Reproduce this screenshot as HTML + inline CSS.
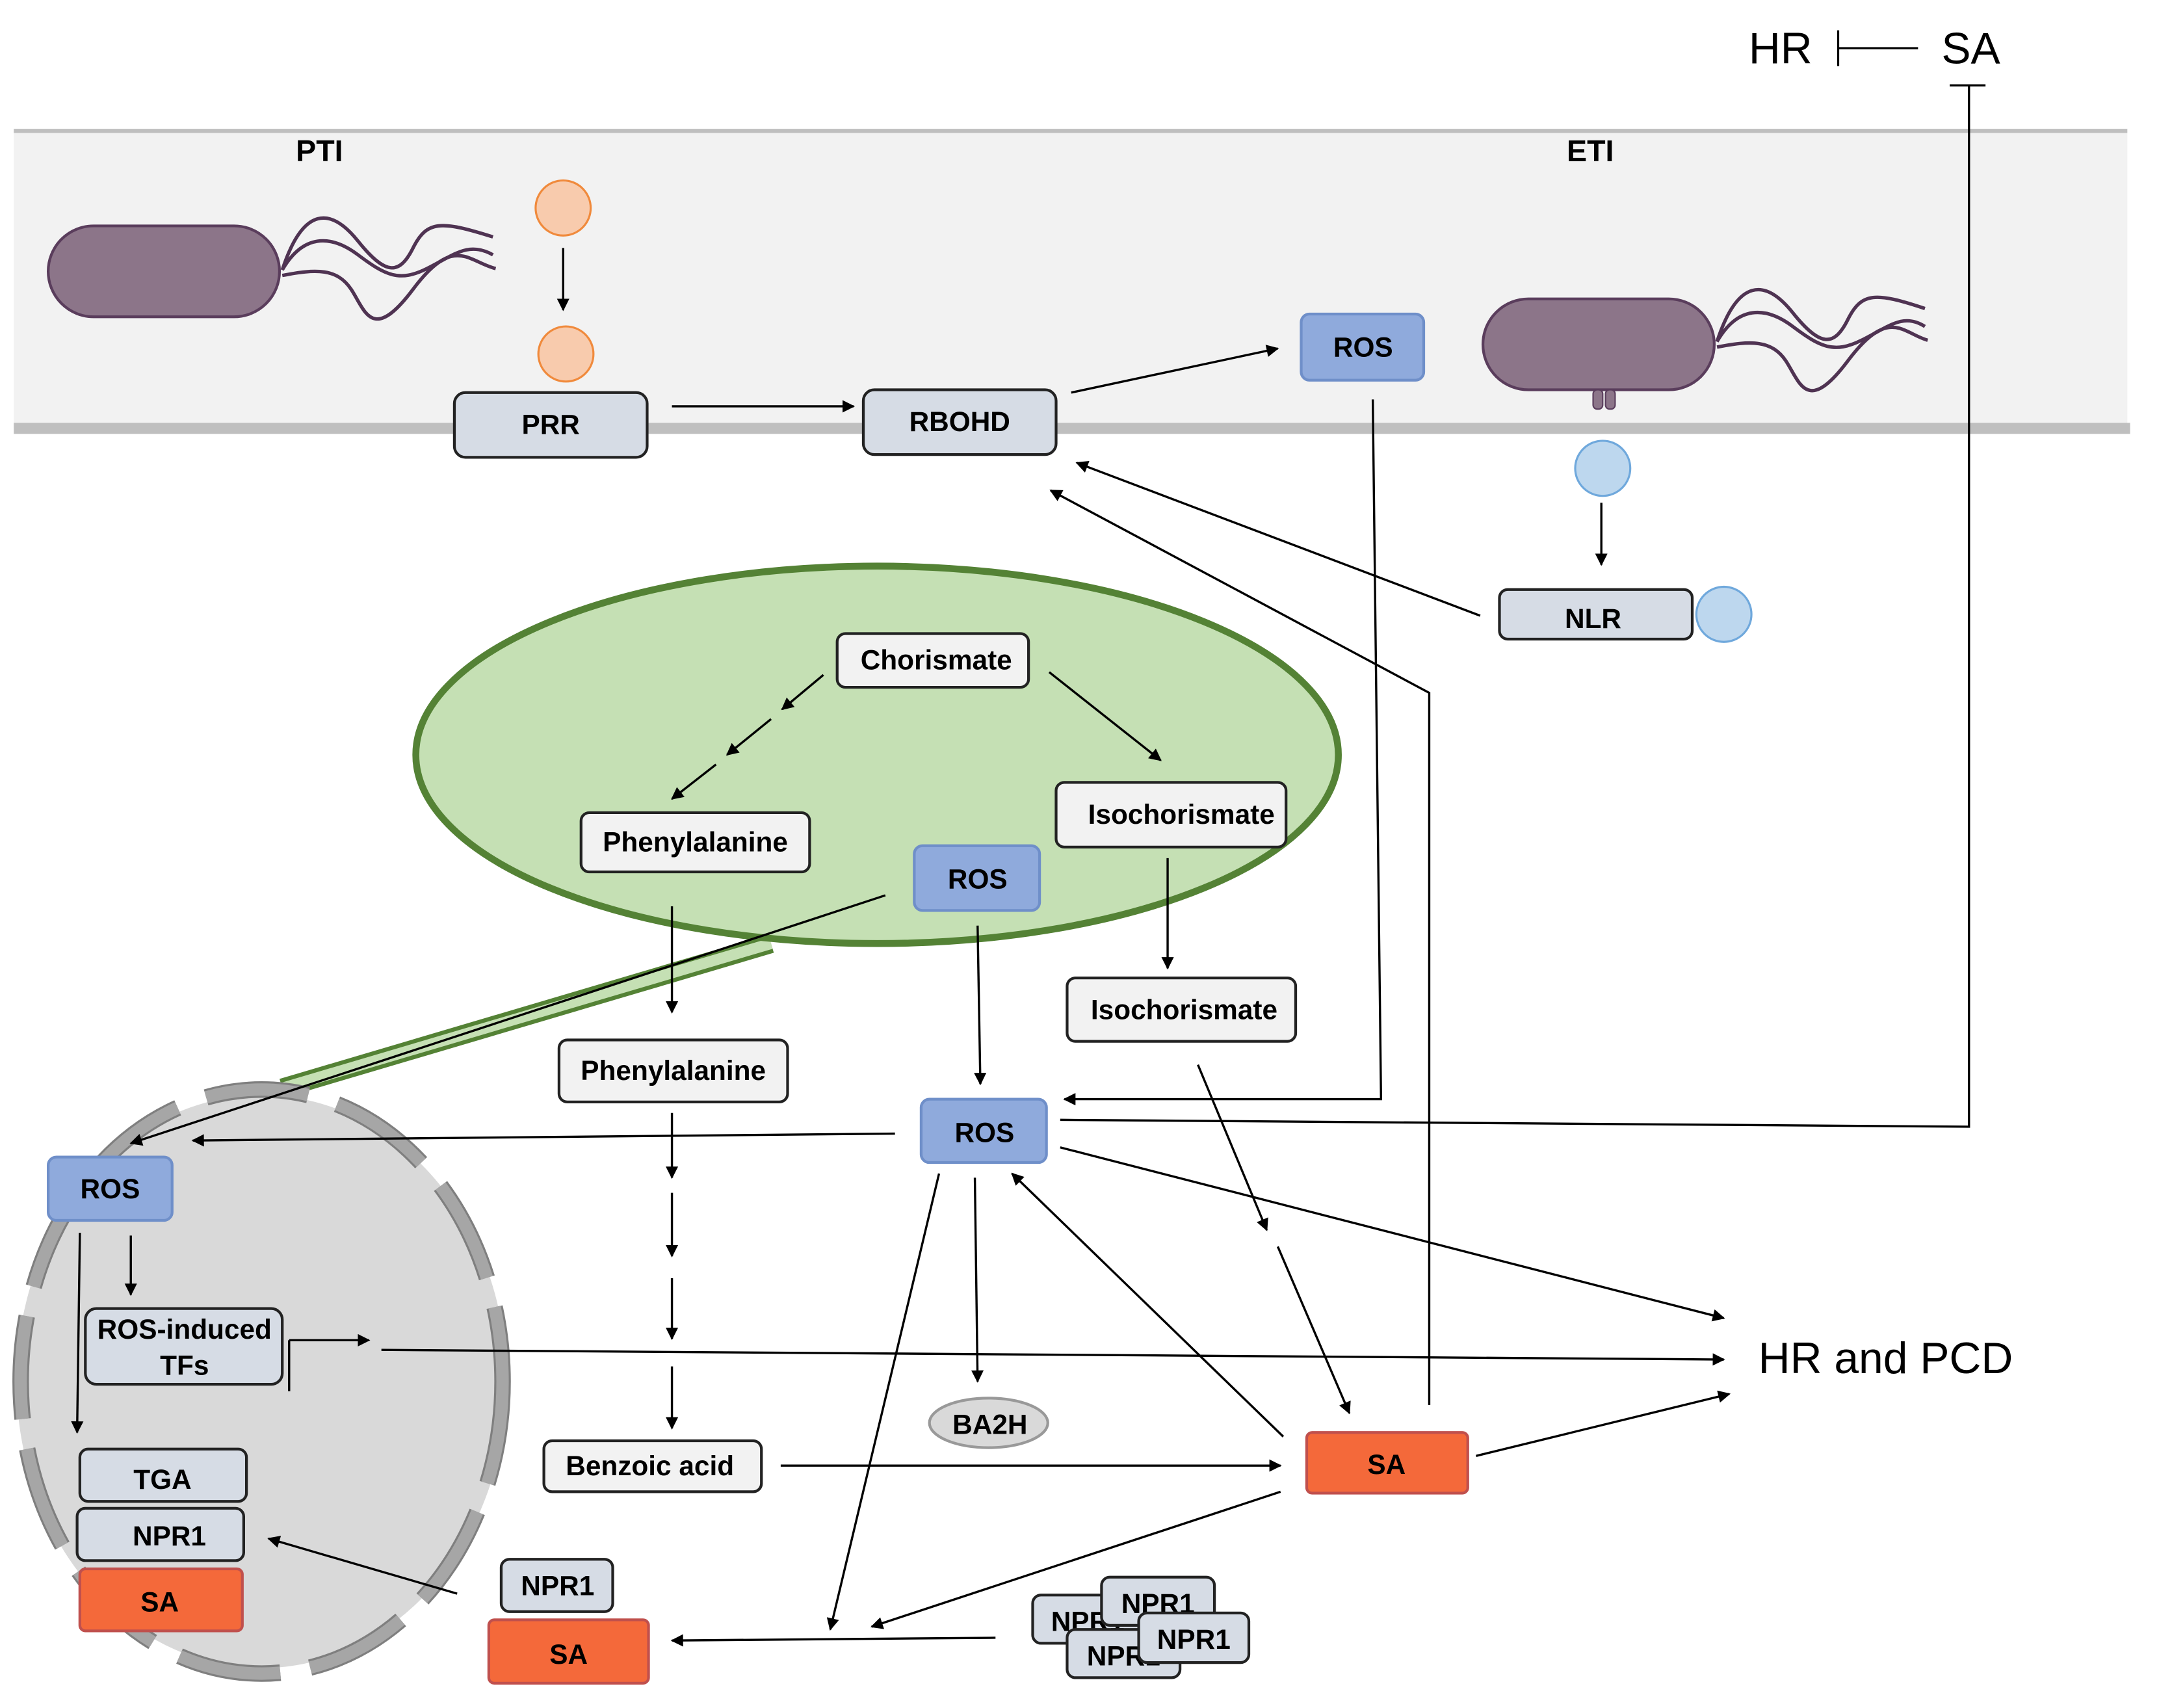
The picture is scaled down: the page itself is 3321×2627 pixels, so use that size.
<!DOCTYPE html>
<html><head><meta charset="utf-8"><style>html,body{margin:0;padding:0;background:#fff}svg{display:block}</style></head><body>
<svg width="3321" height="2627" viewBox="0 0 1568 1240" preserveAspectRatio="none" xmlns="http://www.w3.org/2000/svg" font-family="Liberation Sans, sans-serif">
<defs>
<marker id="a" viewBox="0 0 10 10" refX="9" refY="5" markerWidth="10" markerHeight="9" orient="auto-start-reverse" markerUnits="userSpaceOnUse"><path d="M0,0 L10,5 L0,10 z" fill="#000"/></marker>
</defs>
<g font-weight="bold" font-size="20" text-anchor="middle">
<rect x="10" y="95" width="1535" height="216" fill="#f2f2f2"/>
<line x1="10" y1="95" x2="1545" y2="95" stroke="#bfbfbf" stroke-width="3"/>
<line x1="10" y1="311" x2="1547" y2="311" stroke="#bfbfbf" stroke-width="8"/>
<g font-weight="normal" font-size="32" text-anchor="start">
<text x="1270" y="46">HR</text><text x="1410" y="46">SA</text>
<text x="1277" y="997">HR and PCD</text>
</g>
<line x1="1335" y1="35" x2="1393" y2="35" stroke="#000" stroke-width="1.5"/>
<line x1="1335" y1="22" x2="1335" y2="48" stroke="#000" stroke-width="1.5"/>
<text x="232" y="117" font-size="22">PTI</text>
<text x="1155" y="117" font-size="22">ETI</text>
<rect x="35" y="164" width="168" height="66" rx="33" fill="#8c7589" stroke="#5a3d5c" stroke-width="2"/>
<g fill="none" stroke="#4f3352" stroke-width="2.5">
<path d="M205,196 C220,150 240,150 260,175 S290,200 300,180 S320,160 358,172"/>
<path d="M205,196 C220,170 240,170 260,185 S290,205 310,195 S340,175 358,185"/>
<path d="M205,200 C230,195 245,195 255,210 S270,250 300,210 S340,190 360,195"/>
</g>
<rect x="1077" y="217" width="168" height="66" rx="33" fill="#8c7589" stroke="#5a3d5c" stroke-width="2"/>
<g fill="none" stroke="#4f3352" stroke-width="2.5">
<path d="M1247,248 C1262,202 1282,202 1302,227 S1332,252 1342,232 S1362,212 1398,224"/>
<path d="M1247,248 C1262,222 1282,222 1302,237 S1332,257 1352,247 S1382,227 1398,237"/>
<path d="M1247,252 C1272,247 1287,247 1297,262 S1312,302 1342,262 S1382,242 1400,247"/>
</g>
<rect x="1157" y="283" width="7" height="14" rx="3" fill="#8c7589" stroke="#5a3d5c"/>
<rect x="1166" y="283" width="7" height="14" rx="3" fill="#8c7589" stroke="#5a3d5c"/>
<ellipse cx="409" cy="151" rx="20" ry="20" fill="#f8cbad" stroke="#f08a3c" stroke-width="1.5"/>
<ellipse cx="411" cy="257" rx="20" ry="20" fill="#f8cbad" stroke="#f08a3c" stroke-width="1.5"/>
<circle cx="1164" cy="340" r="20" fill="#bdd7ee" stroke="#6fa8dc" stroke-width="1.5"/>
<circle cx="1252" cy="446" r="20" fill="#bdd7ee" stroke="#6fa8dc" stroke-width="1.5"/>
<path d="M560,685 L205,790" stroke="#548235" stroke-width="14"/>
<path d="M560,685 L205,790" stroke="#c5e0b4" stroke-width="8"/>
<ellipse cx="637" cy="548" rx="335" ry="137" fill="#c5e0b4" stroke="#548235" stroke-width="5"/>
<ellipse cx="190" cy="1003" rx="178" ry="208" fill="#d9d9d9"/>
<ellipse cx="190" cy="1003" rx="175" ry="212" fill="none" stroke="#7f7f7f" stroke-width="12" stroke-dasharray="75 22"/>
<ellipse cx="190" cy="1003" rx="175" ry="212" fill="none" stroke="#a6a6a6" stroke-width="9" stroke-dasharray="75 22"/>
<g stroke="#000" stroke-width="1.6" fill="none" marker-end="url(#a)">
<line x1="409" y1="180" x2="409" y2="225"/>
<line x1="488" y1="295" x2="620" y2="295"/>
<line x1="778" y1="285" x2="928" y2="253"/>
<line x1="1163" y1="365" x2="1163" y2="410"/>
<line x1="1075" y1="447" x2="782" y2="336"/>
<polyline points="1038,1020 1038,503 763,356"/>
<polyline points="997,290 1003,798 773,798"/>
<line x1="598" y1="490" x2="568" y2="515"/>
<line x1="560" y1="522" x2="528" y2="548"/>
<line x1="520" y1="555" x2="488" y2="580"/>
<line x1="762" y1="488" x2="843" y2="552"/>
<line x1="848" y1="623" x2="848" y2="703"/>
<line x1="488" y1="658" x2="488" y2="735"/>
<line x1="643" y1="650" x2="95" y2="830"/>
<line x1="710" y1="672" x2="712" y2="787"/>
<line x1="650" y1="823" x2="140" y2="828"/>
<line x1="770" y1="833" x2="1252" y2="957"/>
<line x1="870" y1="773" x2="920" y2="893"/>
<line x1="928" y1="905" x2="980" y2="1026"/>
<line x1="488" y1="808" x2="488" y2="855"/>
<line x1="488" y1="866" x2="488" y2="912"/>
<line x1="488" y1="928" x2="488" y2="972"/>
<line x1="488" y1="992" x2="488" y2="1037"/>
<line x1="567" y1="1064" x2="930" y2="1064"/>
<line x1="708" y1="855" x2="710" y2="1003"/>
<line x1="932" y1="1043" x2="735" y2="852"/>
<line x1="1072" y1="1057" x2="1256" y2="1012"/>
<line x1="277" y1="980" x2="1252" y2="987"/>
<line x1="95" y1="897" x2="95" y2="940"/>
<line x1="58" y1="895" x2="56" y2="1040"/>
<line x1="210" y1="973" x2="268" y2="973"/>
<line x1="332" y1="1157" x2="195" y2="1117"/>
<line x1="723" y1="1189" x2="488" y2="1191"/>
<line x1="682" y1="852" x2="603" y2="1183"/>
<line x1="930" y1="1083" x2="633" y2="1181"/>
</g>
<polyline points="770,813 1430,818 1430,62" stroke="#000" stroke-width="1.6" fill="none"/>
<line x1="1416" y1="62" x2="1442" y2="62" stroke="#000" stroke-width="1.6"/>
<line x1="210" y1="973" x2="210" y2="1010" stroke="#000" stroke-width="1.6"/>
<g stroke="#222" stroke-width="2">
<rect x="330" y="285" width="140" height="47" rx="8" fill="#d6dce5"/>
<rect x="627" y="283" width="140" height="47" rx="8" fill="#d6dce5"/>
<rect x="945" y="228" width="89" height="48" rx="6" fill="#8faadc" stroke="#6f8fc9"/>
<rect x="1089" y="428" width="140" height="36" rx="6" fill="#d6dce5"/>
<rect x="608" y="460" width="139" height="39" rx="6" fill="#f2f2f2"/>
<rect x="422" y="590" width="166" height="43" rx="6" fill="#f2f2f2"/>
<rect x="767" y="568" width="167" height="47" rx="6" fill="#f2f2f2"/>
<rect x="664" y="614" width="91" height="47" rx="6" fill="#8faadc" stroke="#6f8fc9"/>
<rect x="775" y="710" width="166" height="46" rx="6" fill="#f2f2f2"/>
<rect x="406" y="755" width="166" height="45" rx="6" fill="#f2f2f2"/>
<rect x="669" y="798" width="91" height="46" rx="6" fill="#8faadc" stroke="#6f8fc9"/>
<rect x="395" y="1046" width="158" height="37" rx="6" fill="#f2f2f2"/>
<ellipse cx="718" cy="1033" rx="43" ry="18" fill="#d9d9d9" stroke="#999"/>
<rect x="949" y="1040" width="117" height="44" rx="4" fill="#f4693a" stroke="#c0504d"/>
<rect x="35" y="840" width="90" height="46" rx="6" fill="#8faadc" stroke="#6f8fc9"/>
<rect x="62" y="950" width="143" height="55" rx="8" fill="#d6dce5"/>
<rect x="58" y="1052" width="121" height="38" rx="6" fill="#d6dce5"/>
<rect x="56" y="1095" width="121" height="38" rx="6" fill="#d6dce5"/>
<rect x="58" y="1139" width="118" height="45" rx="4" fill="#f4693a" stroke="#c0504d"/>
<rect x="364" y="1132" width="81" height="38" rx="6" fill="#d6dce5"/>
<rect x="355" y="1176" width="116" height="46" rx="4" fill="#f4693a" stroke="#c0504d"/>
</g>
<g>
<text x="400" y="315">PRR</text>
<text x="697" y="313">RBOHD</text>
<text x="990" y="259">ROS</text>
<text x="1157" y="456">NLR</text>
<text x="680" y="486">Chorismate</text>
<text x="505" y="618">Phenylalanine</text>
<text x="858" y="598">Isochorismate</text>
<text x="710" y="645">ROS</text>
<text x="860" y="740">Isochorismate</text>
<text x="489" y="784">Phenylalanine</text>
<text x="715" y="829">ROS</text>
<text x="472" y="1071">Benzoic acid</text>
<text x="719" y="1041">BA2H</text>
<text x="1007" y="1070">SA</text>
<text x="80" y="870">ROS</text>
<text x="134" y="972">ROS-induced</text>
<text x="134" y="998">TFs</text>
<text x="118" y="1081">TGA</text>
<text x="123" y="1122">NPR1</text>
<text x="116" y="1170">SA</text>
<text x="405" y="1158">NPR1</text>
<text x="413" y="1208">SA</text>
</g>
<rect x="750" y="1158" width="85" height="35" rx="6" fill="#d6dce5" stroke="#222" stroke-width="2"/>
<text x="790" y="1184">NPR1</text>
<rect x="800" y="1145" width="82" height="35" rx="6" fill="#d6dce5" stroke="#222" stroke-width="2"/>
<text x="841" y="1171">NPR1</text>
<rect x="775" y="1183" width="82" height="35" rx="6" fill="#d6dce5" stroke="#222" stroke-width="2"/>
<text x="816" y="1209">NPR1</text>
<rect x="827" y="1171" width="80" height="36" rx="6" fill="#d6dce5" stroke="#222" stroke-width="2"/>
<text x="867" y="1197">NPR1</text>
</g>
</svg>
</body></html>
